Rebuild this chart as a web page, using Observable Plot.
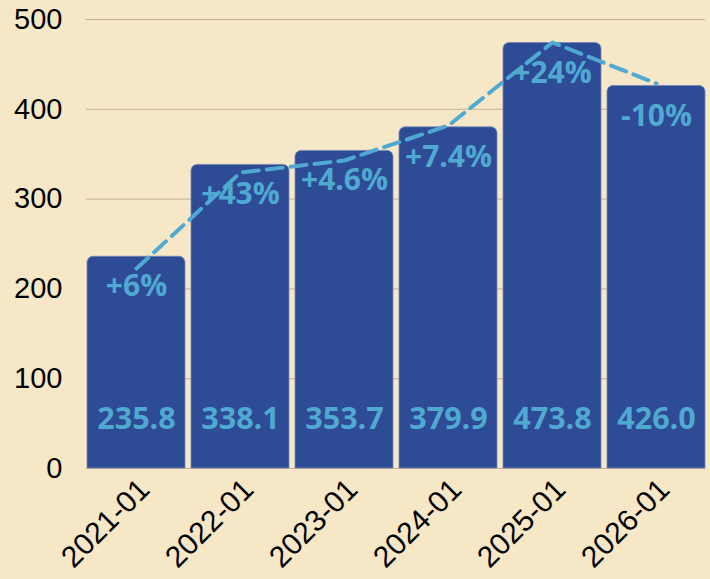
<!DOCTYPE html>
<html>
<head>
<meta charset="utf-8">
<script src="https://cdn.jsdelivr.net/npm/d3@7"></script>
<script src="https://cdn.jsdelivr.net/npm/@observablehq/plot@0.6"></script>
<style>
  html, body { margin: 0; padding: 0; background: #f6e7c6; }
  #chart svg { display: block; }
</style>
</head>
<body>
<div id="chart"></div>
<script>
const categories = ["2021-01", "2022-01", "2023-01", "2024-01", "2025-01", "2026-01"];
const values = [235.8, 338.1, 353.7, 379.9, 473.8, 426.0];
const trend = [222.7, 329.6, 343.0, 382.0, 474.4, 428.7];
const changes = ["+6%", "+43%", "+4.6%", "+7.4%", "+24%", "-10%"];
const yTicks = [0, 100, 200, 300, 400, 500];

const rows = categories.map((c, i) => ({cat: c, value: values[i], trend: trend[i], change: changes[i]}));

const barColor = "#2e4b96";
const accent = "#4fa9d1";

const chart = Plot.plot({
  width: 710,
  height: 579,
  marginLeft: 86,
  marginRight: 5,
  marginTop: 19,
  marginBottom: 111,
  style: {background: "#f6e7c6", fontFamily: "'Liberation Sans', Arial, sans-serif", fontSize: "29px", color: "#000"},
  x: {domain: categories, paddingInner: 0.06, paddingOuter: 0, label: null},
  y: {domain: [0, 500], label: null},
  marks: [
    Plot.gridY(yTicks, {stroke: "#c4b393", strokeOpacity: 1, strokeWidth: 1}),
    Plot.axisY(yTicks, {tickSize: 0, tickPadding: 24, label: null, fontSize: 29}),
    Plot.axisX({tickSize: 0, tickRotate: -45, tickPadding: 16, dx: 8, label: null, fontSize: 30}),
    Plot.barY(rows, {x: "cat", y: "value", fill: barColor, stroke: "#7386ba", strokeWidth: 0.8, ry1: 6}),
    Plot.text(rows, {x: "cat", text: d => d.value.toFixed(1), frameAnchor: "bottom", dy: -40, fill: accent, fontWeight: "bold", fontSize: 30.5, fontFamily: "'Open Sans', sans-serif"}),
    Plot.line(rows, {x: "cat", y: "trend", stroke: accent, strokeWidth: 4, strokeDasharray: "16,8"}),
    Plot.text(rows, {x: "cat", y: "value", text: "change", dy: 30, fill: accent, fontWeight: "bold", fontSize: 30, fontFamily: "'Open Sans', sans-serif"})
  ]
});
document.getElementById("chart").appendChild(chart);
</script>
</body>
</html>
